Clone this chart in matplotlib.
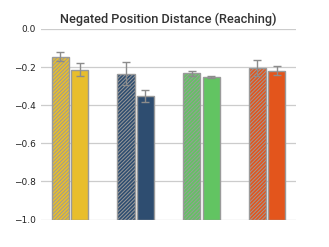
import matplotlib.pyplot as plt
import numpy as np

groups = ["A", "B", "C", "D"]
colors = ["#E8BE2C", "#2E4D70", "#62C462", "#E3551C"]
vals_hatched = [-0.145, -0.234, -0.233, -0.205]
err_hatched = [0.024, 0.06, 0.014, 0.04]
vals_plain = [-0.213, -0.352, -0.250, -0.219]
err_plain = [0.033, 0.03, 0.005, 0.023]

plt.rcParams['hatch.color'] = '#7f7f7f'
plt.rcParams['hatch.linewidth'] = 0.7

fig = plt.figure(figsize=(3.29, 2.47), dpi=100)
ax = fig.add_axes([0.125, 0.111, 0.775, 0.772])

x = np.arange(len(groups))
w = 0.26
off = 0.148
bottom = -1.0

for i in range(len(groups)):
    ax.bar(x[i] - off, vals_hatched[i] - bottom, w, bottom=bottom, color=colors[i],
           edgecolor="#9a9a9a", linewidth=1.0, hatch="/////////", zorder=3)
    ax.bar(x[i] + off, vals_plain[i] - bottom, w, bottom=bottom, color=colors[i],
           edgecolor="#9a9a9a", linewidth=1.0, zorder=3)
    ax.errorbar(x[i] - off, vals_hatched[i], yerr=err_hatched[i], fmt="none",
                ecolor="#8c8c8c", elinewidth=1.0, capsize=3, capthick=1.0, zorder=4)
    ax.errorbar(x[i] + off, vals_plain[i], yerr=err_plain[i], fmt="none",
                ecolor="#8c8c8c", elinewidth=1.0, capsize=3, capthick=1.0, zorder=4)

ax.set_xlim(-0.44, 3.44)
ax.set_ylim(-1.0, 0.0)
ax.set_yticks([0.0, -0.2, -0.4, -0.6, -0.8, -1.0])
ax.set_xticks([])
ax.tick_params(axis="y", labelsize=6.5, length=0, pad=4, colors="#222222")
ax.grid(axis="y", color="#cccccc", linewidth=0.9, zorder=0)
for s in ax.spines.values():
    s.set_visible(False)

ax.set_title("Negated Position Distance (Reaching)", fontsize=9.2, color="#333333",
             family="Roboto", fontweight="medium", pad=4)

fig.savefig("out.png", dpi=100)
